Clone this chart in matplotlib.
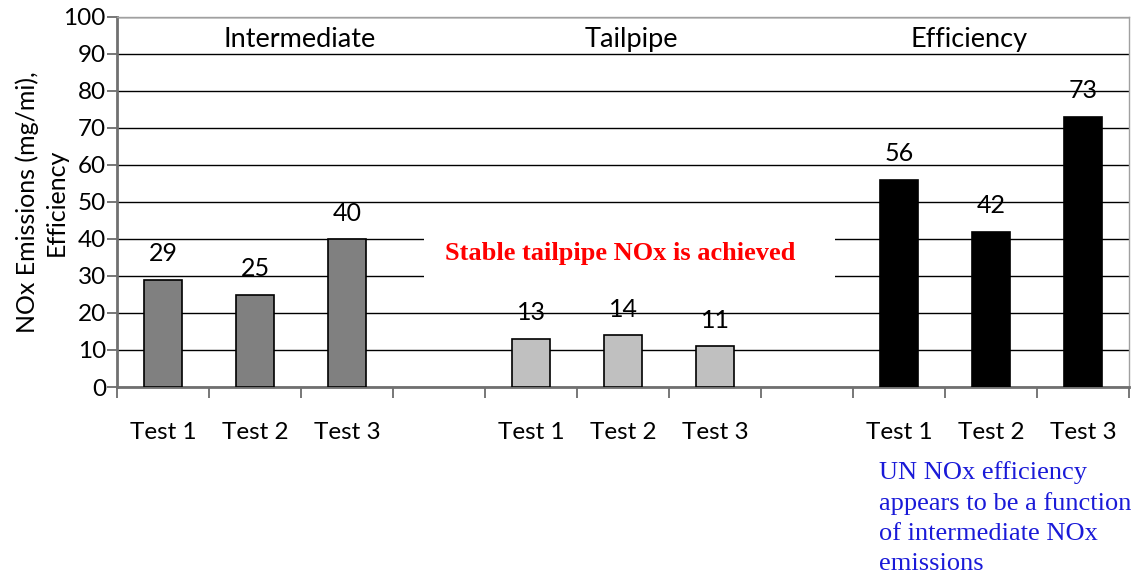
import numpy as np
import matplotlib.pyplot as plt
from matplotlib.patches import Rectangle

# data
categories = ['Test 1', 'Test 2', 'Test 3', '', 'Test 1', 'Test 2', 'Test 3', '', 'Test 1', 'Test 2', 'Test 3']
intermediate = [29, 25, 40]
tailpipe = [13, 14, 11]
efficiency = [56, 42, 73]
groups = ['Intermediate', 'Tailpipe', 'Efficiency']

plt.rcParams['font.family'] = ['Lato', 'DejaVu Sans']

fig = plt.figure(figsize=(11.37, 5.80), dpi=100)
ax = fig.add_axes([117/1137, 1 - 387/580, (1129-117)/1137, (387-17)/580])

x = np.arange(len(categories))
w = 0.42
pos_i = x[0:3]
pos_t = x[4:7]
pos_e = x[8:11]

for pos, vals, col in [(pos_i, intermediate, '#808080'),
                       (pos_t, tailpipe, '#c0c0c0'),
                       (pos_e, efficiency, '#000000')]:
    ax.bar(pos, vals, w, color=col, edgecolor='black', linewidth=1.2, zorder=3)
    for p, v in zip(pos, vals):
        ax.text(p, v + 7.0, str(v), ha='center', va='center', fontsize=18, zorder=4)

ax.set_xlim(-0.5, len(categories) - 0.5)
ax.set_ylim(0, 100)
ax.set_yticks(np.arange(0, 101, 10))
ax.yaxis.grid(True, color='black', linewidth=1)
ax.set_axisbelow(True)

ax.set_xticks(x)
ax.set_xticklabels(categories, fontsize=17.5)
ax.set_xticks(np.arange(-0.5, len(categories)), minor=True)
ax.tick_params(axis='x', which='major', length=0, pad=25)
ax.tick_params(axis='x', which='minor', length=8, width=1.2, color='#606060')
ax.tick_params(axis='y', length=7, width=1.2, color='#606060', labelsize=17.5, pad=1)

for s in ['left', 'bottom']:
    ax.spines[s].set_color('#707070')
    ax.spines[s].set_linewidth(2)
for s in ['top', 'right']:
    ax.spines[s].set_color('#a0a0a0')
    ax.spines[s].set_linewidth(1)

ax.set_ylabel('NOx Emissions (mg/mi),\nEfficiency', fontsize=18, labelpad=-3, linespacing=1.3)

# group titles
for gx, g in zip([1.48, 5.09, 8.76], groups):
    ax.text(gx, 94, g, ha='center', va='center', fontsize=19.5, zorder=4)

# white box with red note
ax.add_patch(Rectangle((2.84, 26.5), 4.46, 16, facecolor='white', edgecolor='none', zorder=2))
ax.text(4.97, 36.2, 'Stable tailpipe NOx is achieved', ha='center', va='center',
        fontsize=19, fontweight='bold', color='#ff0000', family='Liberation Serif', zorder=4)

fig.text(879/1137, 1 - 461/580,
         'UN NOx efficiency\nappears to be a function\nof intermediate NOx\nemissions',
         ha='left', va='top', fontsize=19, color='#1a1ad8', family='Liberation Serif',
         linespacing=1.47)

fig.savefig('out.png', dpi=100)
